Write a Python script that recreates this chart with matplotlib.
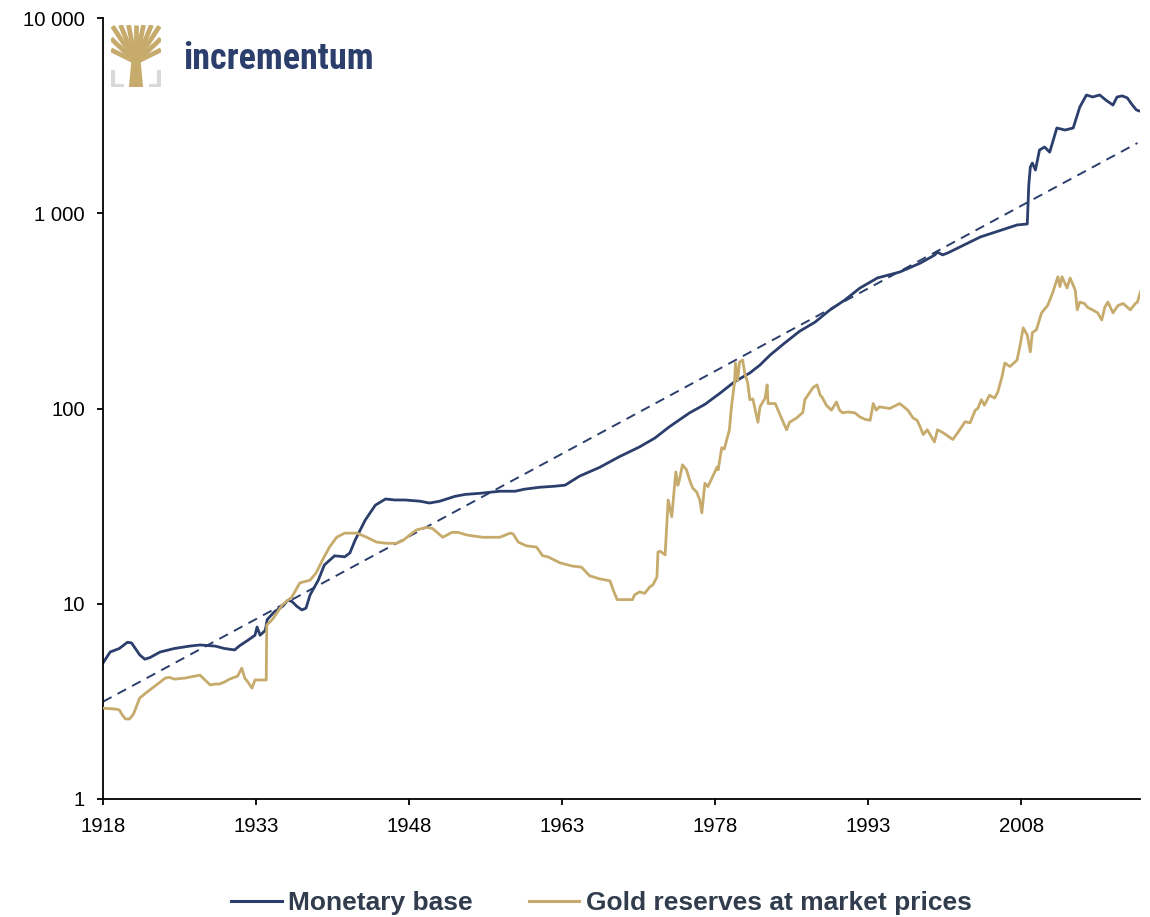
import matplotlib
matplotlib.use("Agg")
import matplotlib.pyplot as plt
from matplotlib.ticker import FixedLocator, FuncFormatter, NullLocator
from matplotlib import font_manager

# ---------------- data ----------------
mb_years = [1918.0, 1918.7, 1919.6, 1920.4, 1920.8, 1921.6, 1922.1, 1922.6, 1923.6, 1925.0,
            1926.5, 1927.5, 1929.0, 1929.9, 1930.9, 1931.4, 1932.2, 1932.9, 1933.1, 1933.4,
            1933.9, 1934.1, 1934.8, 1935.6, 1936.1, 1936.5, 1937.0, 1937.5, 1937.9, 1938.3,
            1939.1, 1939.7, 1940.7, 1941.7, 1942.2, 1942.7, 1943.7, 1944.7, 1945.7, 1946.6,
            1947.6, 1949.1, 1950.0, 1951.0, 1952.5, 1953.5, 1955.0, 1956.9, 1958.4, 1959.3,
            1960.8, 1962.3, 1963.3, 1964.7, 1966.7, 1968.6, 1970.6, 1972.1, 1973.5, 1975.5,
            1977.0, 1978.5, 1979.9, 1981.4, 1982.4, 1983.4, 1984.8, 1986.3, 1987.8, 1989.2,
            1990.7, 1992.2, 1993.9, 1996.1, 1998.1, 1999.5, 1999.8, 2000.3, 2000.8, 2004.0,
            2007.6, 2008.6, 2008.75, 2008.9, 2009.1, 2009.4, 2009.8, 2010.3, 2010.8, 2011.5,
            2012.3, 2013.1, 2013.75, 2014.4, 2015.0, 2015.7, 2016.3, 2017.0, 2017.4, 2017.9,
            2018.4, 2018.9, 2019.3, 2019.6]
mb_values = [4.97, 5.66, 5.9, 6.35, 6.3, 5.47, 5.2, 5.3, 5.66, 5.9,
             6.07, 6.15, 6.07, 5.9, 5.8, 6.1, 6.5, 6.9, 7.6, 6.9,
             7.3, 8.3, 9.1, 9.7, 10.4, 10.3, 9.7, 9.3, 9.5, 11.1,
             13.2, 15.8, 17.6, 17.4, 18.2, 21.1, 26.8, 32.0, 34.4, 34.0,
             34.0, 33.5, 32.8, 33.5, 35.5, 36.3, 36.8, 37.7, 37.7, 38.6,
             39.5, 40.0, 40.5, 45.0, 50.0, 56.6, 63.6, 70.6, 80.5, 95.0,
             105, 120, 137, 152, 167, 188, 216, 249, 277, 318,
             359, 414, 466, 500, 555, 610, 632, 612, 626, 756,
             871, 881, 1400, 1725, 1808, 1665, 2109, 2183, 2056, 2733,
             2668, 2733, 3500, 4033, 3940, 4033, 3800, 3583, 3940, 3990,
             3900, 3583, 3380, 3340]

gold_years = [1918.0, 1919.15, 1919.6, 1919.9, 1920.2, 1920.6, 1921.0, 1921.6, 1922.2, 1923.1,
              1924.1, 1924.5, 1925.0, 1926.0, 1927.0, 1927.5, 1928.0, 1928.5, 1929.0, 1929.4,
              1929.9, 1930.4, 1931.2, 1931.6, 1931.9, 1932.2, 1932.6, 1932.9, 1933.1, 1934.0,
              1934.05, 1934.6, 1935.6, 1936.5, 1937.3, 1938.3, 1938.9, 1939.5, 1940.2, 1940.9,
              1941.7, 1942.9, 1943.85, 1944.8, 1945.8, 1946.8, 1947.4, 1948.4, 1948.75, 1949.7,
              1950.3, 1951.3, 1952.2, 1952.8, 1953.65, 1955.2, 1956.9, 1957.9, 1958.2, 1958.7,
              1959.5, 1960.5, 1961.1, 1961.6, 1962.8, 1964.0, 1964.9, 1965.7, 1966.7, 1967.7,
              1968.0, 1968.4, 1969.9, 1970.1, 1970.6, 1971.1, 1971.6, 1971.9, 1972.3, 1972.4,
              1972.6, 1973.1, 1973.25, 1973.4, 1973.75, 1974.15, 1974.35, 1974.5, 1974.8, 1975.2,
              1975.5, 1975.8, 1976.2, 1976.5, 1976.7, 1977.0, 1977.3, 1978.2, 1978.3, 1978.65,
              1978.9, 1979.4, 1979.6, 1979.9, 1980.0, 1980.2, 1980.4, 1980.7, 1980.9, 1981.2,
              1981.4, 1981.7, 1982.2, 1982.4, 1982.9, 1983.1, 1983.2, 1983.9, 1984.1, 1985.0,
              1985.3, 1986.0, 1986.6, 1986.8, 1987.6, 1988.0, 1988.3, 1988.5, 1988.9, 1989.4,
              1989.9, 1990.2, 1990.5, 1991.0, 1991.7, 1992.2, 1992.7, 1993.2, 1993.5, 1993.8,
              1994.1, 1995.1, 1996.1, 1996.9, 1997.4, 1997.8, 1998.1, 1998.4, 1998.8, 1999.5,
              1999.8, 2000.3, 2001.0, 2001.3, 2001.8, 2002.5, 2003.0, 2003.5, 2003.75, 2004.1,
              2004.4, 2004.9, 2005.4, 2005.7, 2006.1, 2006.4, 2006.9, 2007.6, 2007.9, 2008.2,
              2008.6, 2008.9, 2009.1, 2009.5, 2010.0, 2010.6, 2011.1, 2011.6, 2011.8, 2012.0,
              2012.5, 2012.8, 2013.3, 2013.5, 2013.75, 2014.2, 2014.5, 2015.0, 2015.5, 2015.9,
              2016.2, 2016.5, 2017.0, 2017.5, 2018.0, 2018.7, 2019.2, 2019.4, 2019.7]
gold_values = [2.92, 2.89, 2.86, 2.69, 2.57, 2.57, 2.73, 3.29, 3.49, 3.79,
               4.16, 4.2, 4.11, 4.16, 4.26, 4.31, 4.07, 3.84, 3.88, 3.88,
               3.97, 4.11, 4.26, 4.68, 4.16, 3.97, 3.70, 4.07, 4.07, 4.07,
               7.78, 8.3, 9.9, 10.8, 12.8, 13.2, 14.4, 16.7, 19.5, 21.9,
               23.0, 23.0, 21.9, 20.7, 20.4, 20.4, 21.1, 23.2, 23.9, 24.6,
               24.3, 21.9, 23.2, 23.2, 22.5, 21.9, 21.9, 23.0, 22.8, 20.7,
               19.8, 19.5, 17.6, 17.4, 16.2, 15.6, 15.4, 13.9, 13.4, 13.1,
               11.8, 10.5, 10.5, 11.1, 11.5, 11.3, 12.2, 12.5, 13.7, 18.4,
               18.6, 17.8, 24.6, 34.0, 27.9, 47.3, 40.4, 43.0, 51.5, 48.5,
               43.0, 39.2, 37.3, 34.0, 29.2, 41.4, 39.8, 50.2, 48.5, 63.0,
               62.0, 77.8, 101.9, 135, 171, 139, 173, 177, 152, 135,
               111, 112, 85, 102, 113, 132, 106, 106, 100, 77.8,
               85, 89.5, 95.5, 111, 128, 132, 117, 114, 104, 98,
               108, 98, 95, 96, 95, 90.5, 88, 87, 106, 98,
               102, 100, 106, 98, 89.5, 87, 80.6, 73.5, 77.8, 67.4,
               77.8, 75.4, 71.2, 69.4, 75.4, 85.5, 84.5, 98, 100, 111,
               104, 117, 113, 121, 144, 171, 164, 177, 211, 259,
               238, 195, 245, 253, 309, 337, 393, 473, 421, 473,
               414, 466, 404, 320, 351, 345, 330, 320, 309, 284,
               330, 351, 309, 337, 345, 320, 345, 351, 397]

trend_years = [1918.0, 2019.4]
trend_values = [3.15, 2290]

x_ticks = [1918, 1933, 1948, 1963, 1978, 1993, 2008]
y_ticks = [1, 10, 100, 1000, 10000]
y_labels = ["1", "10", "100", "1 000", "10 000"]

series_names = ["Monetary base", "Gold reserves at market prices"]

# ---------------- style ----------------
NAVY = "#2b3e6c"
GOLD = "#c6ab6c"
GRAY = "#d9d9d9"
LEG_TXT = "#313c4d"

avail = {f.name for f in font_manager.fontManager.ttflist}
narrow = None
for cand in ["Liberation Sans Narrow", "Roboto Condensed", "Open Sans Condensed",
             "DejaVu Sans Condensed", "Noto Sans Condensed"]:
    if cand in avail:
        narrow = cand
        break

W, H = 1150, 917
fig = plt.figure(figsize=(W / 100, H / 100), dpi=100)
fig.patch.set_facecolor("white")

L, R, T, B = 103, 1140, 18, 799
ax = fig.add_axes([L / W, 1 - B / H, (R - L) / W, (B - T) / H])

ax.plot(trend_years, trend_values, color=NAVY, lw=1.4, dashes=(5, 3.5), zorder=1)
ax.plot(mb_years, mb_values, color=NAVY, lw=2.0, zorder=2, label=series_names[0],
        solid_joinstyle="round")
ax.plot(gold_years, gold_values, color=GOLD, lw=2.0, zorder=3, label=series_names[1],
        solid_joinstyle="round")

ax.set_yscale("log")
ax.set_ylim(1, 10000)
ax.set_xlim(1918, 2019.65)
ax.yaxis.set_major_locator(FixedLocator(y_ticks))
ax.yaxis.set_minor_locator(NullLocator())
ax.yaxis.set_major_formatter(FuncFormatter(
    lambda v, p: y_labels[y_ticks.index(int(round(v)))] if int(round(v)) in y_ticks else ""))
ax.xaxis.set_major_locator(FixedLocator(x_ticks))
ax.xaxis.set_major_formatter(FuncFormatter(lambda v, p: f"{int(round(v))}"))

for s in ["top", "right"]:
    ax.spines[s].set_visible(False)
for s in ["left", "bottom"]:
    ax.spines[s].set_linewidth(1.3)
    ax.spines[s].set_color("black")
ax.tick_params(axis="both", direction="out", length=4, width=1.3, color="black",
               labelsize=14.7, labelcolor="black")
ax.tick_params(axis="x", pad=9)
ax.tick_params(axis="y", pad=9)
for lab in ax.get_xticklabels() + ax.get_yticklabels():
    lab.set_family(["Liberation Sans", "DejaVu Sans"])

# legend
leg = fig.legend(loc="center", bbox_to_anchor=(0.523, 1 - 903 / H), ncol=2, frameon=False,
                 handlelength=1.93, handletextpad=0.23, columnspacing=2.1,
                 prop={"family": ["Liberation Sans", "DejaVu Sans"], "weight": "bold", "size": 19})
for t in leg.get_texts():
    t.set_color(LEG_TXT)
for h in leg.get_lines():
    h.set_linewidth(2.2)

# logo: tree icon + wordmark
lax = fig.add_axes([111 / W, 1 - 87 / H, 50 / W, 62 / H])
lax.set_xlim(0, 1)
lax.set_ylim(0, 1)
lax.axis("off")
lax.plot([0.04, 0.04, 0.25], [0.28, 0.02, 0.02], color=GRAY, lw=3, solid_capstyle="butt")
lax.plot([0.96, 0.96, 0.75], [0.28, 0.02, 0.02], color=GRAY, lw=3, solid_capstyle="butt")
lax.fill([0.36, 0.64, 0.59, 0.41], [0.0, 0.0, 0.45, 0.45], color=GOLD, lw=0)
for ex, ey in [(0.03, 0.98), (0.19, 1.0), (0.35, 1.0), (0.5, 1.0), (0.65, 1.0), (0.81, 1.0),
               (0.97, 0.98), (0.0, 0.78), (1.0, 0.78), (0.0, 0.6), (1.0, 0.6)]:
    lax.plot([0.5, ex], [0.4, ey], color=GOLD, lw=3.4, solid_capstyle="butt")
if narrow:
    fig.text(183 / W, 1 - 69 / H, "incrementum", color=NAVY, fontsize=26, fontweight="bold",
             family=[narrow, "DejaVu Sans"], ha="left", va="baseline")
else:
    fig.text(183 / W, 1 - 69 / H, "incrementum", color=NAVY, fontsize=22.5, fontweight="bold",
             family=["Liberation Sans", "DejaVu Sans"], ha="left", va="baseline")

fig.savefig("out.png", dpi=100, facecolor="white")
